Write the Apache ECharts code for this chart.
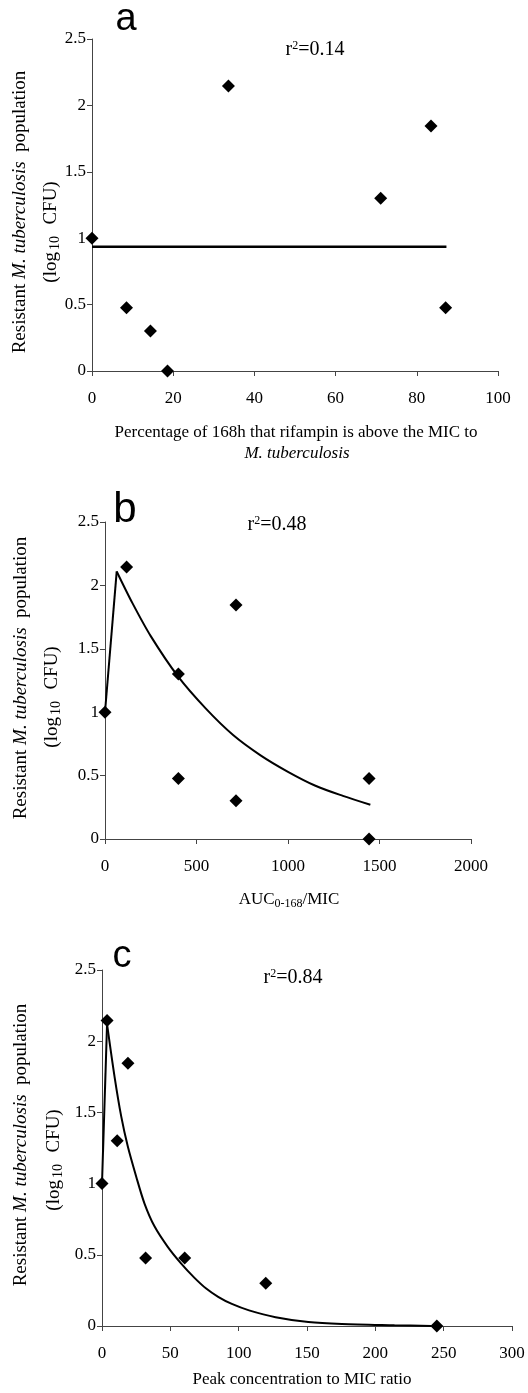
<!DOCTYPE html>
<html>
<head>
<meta charset="utf-8">
<script src="https://cdn.jsdelivr.net/npm/echarts@6.0.0/dist/echarts.min.js"></script>
<style>
html,body{margin:0;padding:0;background:#fff;}
#chart{width:528px;height:1393px;}
</style>
</head>
<body>
<div id="chart"></div>
<script>
// ---- Panel a: % of 168h above MIC ----
const aX = [0, 8.5, 14.4, 18.6, 33.6, 71.1, 83.5, 87.1];
const aY = [1.0, 0.477, 0.301, 0, 2.146, 1.301, 1.845, 0.477];
const aFitX = [0, 87.3];
const aFitY = [0.935, 0.935];

// ---- Panel b: AUC0-168/MIC ----
const bX = [0, 118, 401, 401, 716, 716, 1443, 1443];
const bY = [1.0, 2.146, 1.301, 0.477, 1.845, 0.301, 0.477, 0];
const bFitX = [0, 64, 150, 250, 400, 550, 700, 850, 1000, 1150, 1300, 1450];
const bFitY = [1.0, 2.11, 1.86, 1.60, 1.28, 1.03, 0.82, 0.66, 0.53, 0.42, 0.34, 0.27];

// ---- Panel c: Peak/MIC ----
const cX = [0, 3.7, 11.1, 19, 31.9, 60.5, 119.8, 245];
const cY = [1.0, 2.146, 1.301, 1.845, 0.477, 0.477, 0.301, 0];
const cFitX = [0, 3.7, 9.2, 14.1, 18.9, 25, 31.1, 38.4, 48.1, 57.8, 67.5, 76, 85, 95, 107.6, 127, 151, 175.5, 214, 241];
const cFitY = [1.0, 2.12, 1.75, 1.47, 1.26, 1.05, 0.86, 0.70, 0.556, 0.44, 0.34, 0.265, 0.205, 0.155, 0.11, 0.062, 0.028, 0.014, 0.005, 0];

// axis settings
const xMax = [100, 2000, 300];
const xStep = [20, 500, 50];
const yMax = 2.5;
const yStep = 0.5;

const r2Labels = ['0.14', '0.48', '0.84'];
const panelLetters = ['a', 'b', 'c'];

const SERIF = '"Liberation Serif", "Times New Roman", serif';
const SANS = '"Liberation Sans", Arial, sans-serif';
const AXC = '#444';

function pairs(xs, ys) { return xs.map((x, i) => [x, ys[i]]); }

const grids = [
  {left: 92, top: 39, width: 406, height: 332},
  {left: 105, top: 522, width: 366, height: 317},
  {left: 102, top: 970, width: 410, height: 356}
].map(g => Object.assign({containLabel: false, outerBoundsMode: 'none'}, g));

const xAxes = [0, 1, 2].map(i => ({
  type: 'value', gridIndex: i, min: 0, max: xMax[i], interval: xStep[i],
  axisLine: {show: true, onZero: false, lineStyle: {color: AXC, width: 1}},
  axisTick: {show: true, length: 5, lineStyle: {color: AXC}},
  splitLine: {show: false},
  axisLabel: {color: '#000', fontFamily: SERIF, fontSize: 17, margin: 19, formatter: v => String(v)}
}));
const yAxes = [0, 1, 2].map(i => ({
  type: 'value', gridIndex: i, min: 0, max: yMax, interval: yStep,
  axisLine: {show: true, onZero: false, lineStyle: {color: AXC, width: 1}},
  axisTick: {show: true, length: 5, lineStyle: {color: AXC}},
  splitLine: {show: false},
  axisLabel: {color: '#000', fontFamily: SERIF, fontSize: 17, margin: 6, formatter: v => String(v)}
}));

const scatterStyle = {symbol: 'diamond', symbolSize: 13, itemStyle: {color: '#000', opacity: 1}, z: 3, silent: true};
const lineStyle = {type: 'line', showSymbol: false, symbol: 'none', lineStyle: {color: '#000', width: 2}, silent: true, z: 2};

const series = [
  Object.assign({type: 'line', xAxisIndex: 0, yAxisIndex: 0, data: pairs(aFitX, aFitY)}, lineStyle, {lineStyle: {color: '#000', width: 2.5}}),
  Object.assign({type: 'scatter', xAxisIndex: 0, yAxisIndex: 0, data: pairs(aX, aY)}, scatterStyle),

  Object.assign({xAxisIndex: 1, yAxisIndex: 1, data: pairs(bFitX, bFitY).slice(0, 2)}, lineStyle),
  Object.assign({xAxisIndex: 1, yAxisIndex: 1, data: pairs(bFitX, bFitY).slice(1), smooth: 0.3}, lineStyle),
  Object.assign({type: 'scatter', xAxisIndex: 1, yAxisIndex: 1, data: pairs(bX, bY)}, scatterStyle),

  Object.assign({xAxisIndex: 2, yAxisIndex: 2, data: pairs(cFitX, cFitY).slice(0, 2)}, lineStyle),
  Object.assign({xAxisIndex: 2, yAxisIndex: 2, data: pairs(cFitX, cFitY).slice(1), smooth: 0.3}, lineStyle),
  Object.assign({type: 'scatter', xAxisIndex: 2, yAxisIndex: 2, data: pairs(cX, cY)}, scatterStyle)
];

const rich = {
  n: {fontFamily: SERIF, fontSize: 19, color: '#000'},
  i: {fontFamily: SERIF, fontSize: 19, fontStyle: 'italic', color: '#000'},
  sub: {fontFamily: SERIF, fontSize: 14, color: '#000', padding: [9, 2, 0, 2]},
  sup: {fontFamily: SERIF, fontSize: 12, color: '#000', padding: [0, 0, 9, 0]},
  r: {fontFamily: SERIF, fontSize: 20, color: '#000'},
  x: {fontFamily: SERIF, fontSize: 17, color: '#000'},
  xi: {fontFamily: SERIF, fontSize: 17, fontStyle: 'italic', color: '#000'},
  xsub: {fontFamily: SERIF, fontSize: 12, color: '#000', padding: [7, 0, 0, 0]}
};

function txt(x, y, text) {
  return {
    type: 'text', x: x, y: y, silent: true,
    style: {text: text, align: 'center', verticalAlign: 'middle', rich: rich, fill: '#000'}
  };
}
function rot(x, y, text) {
  const t = txt(x, y, text);
  t.rotation = Math.PI / 2;
  return t;
}

const letterPos = [[126, 20, 38], [125, 510, 42], [122, 957, 38]];
const r2Pos = [[315, 50], [277, 525], [293, 978]];
const yTitle1 = [[20, 212], [21, 678], [21, 1145]];
const yTitle2 = [[51, 232], [52, 697], [54, 1160]];

const graphic = [];
for (let i = 0; i < 3; i++) {
  graphic.push({type: 'text', x: letterPos[i][0], y: letterPos[i][1], silent: true,
    style: {text: panelLetters[i], font: letterPos[i][2] + 'px ' + SANS, fill: '#000', align: 'center', verticalAlign: 'middle'}});
  graphic.push(txt(r2Pos[i][0], r2Pos[i][1], '{r|r}{sup|2}{r|=' + r2Labels[i] + '}'));
  graphic.push(rot(yTitle1[i][0], yTitle1[i][1], '{n|Resistant }{i|M. tuberculosis}{n|  population}'));
  graphic.push(rot(yTitle2[i][0], yTitle2[i][1], '{n|(log}{sub|10}{n|  CFU)}'));
}
graphic.push(txt(296, 433, '{x|Percentage of 168h that rifampin is above the MIC to}'));
graphic.push(txt(297, 454, '{xi|M. tuberculosis}'));
graphic.push(txt(289, 900, '{x|AUC}{xsub|0-168}{x|/MIC}'));
graphic.push(txt(302, 1380, '{x|Peak concentration to MIC ratio}'));

const chart = echarts.init(document.getElementById('chart'), null, {renderer: 'canvas'});
chart.setOption({
  animation: false,
  backgroundColor: '#fff',
  grid: grids,
  xAxis: xAxes,
  yAxis: yAxes,
  series: series,
  graphic: graphic
});
</script>
</body>
</html>
